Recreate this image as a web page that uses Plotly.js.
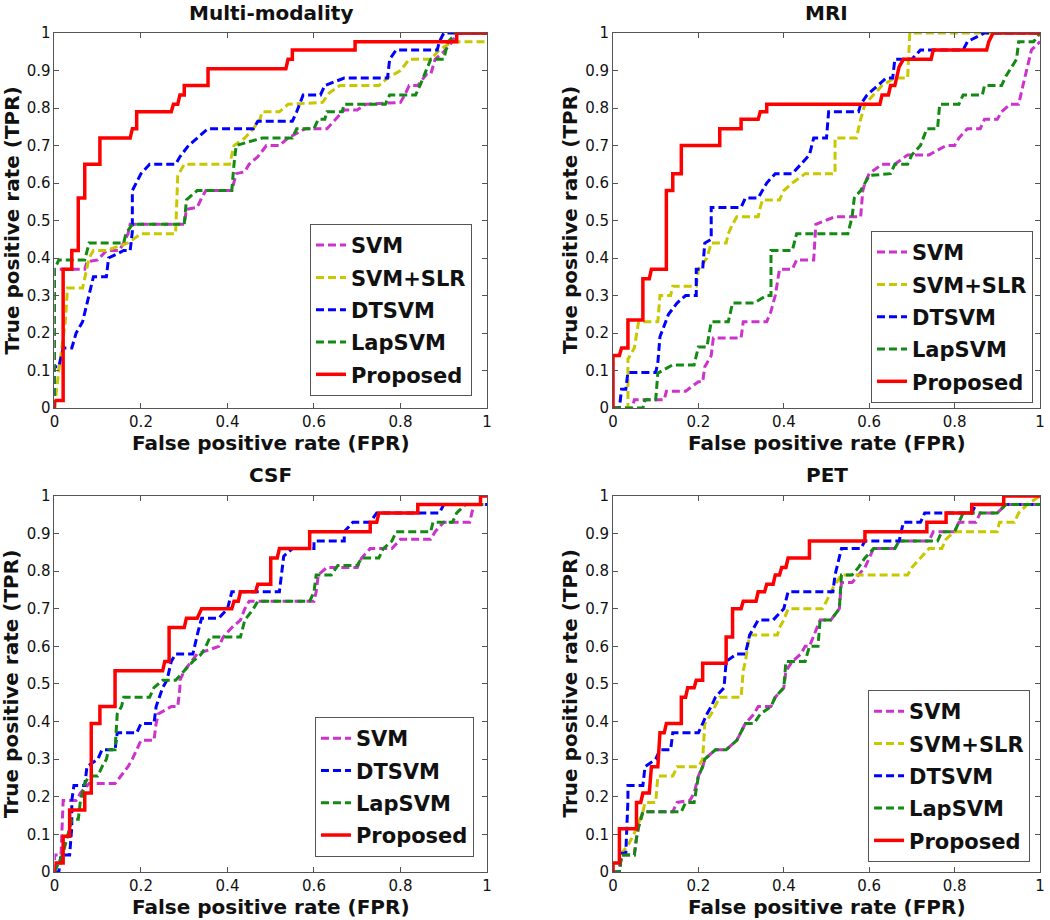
<!DOCTYPE html>
<html lang="en">
<head>
<meta charset="UTF-8">
<title>ROC curves</title>
<script src="https://cdn.plot.ly/plotly-3.0.1.min.js"></script>
<style>
    body { margin: 0; background: white; }
    #chart { width: 1050px; height: 920px; }
</style>
</head>
<body>
<div id="chart"></div>
<script>
    // ROC points [FPR, TPR]

    // Multi-modality
    const mmSVM = [[0,0],[0,0.37],[0.07,0.37],[0.075,0.39],[0.1,0.395],[0.12,0.42],[0.15,0.42],[0.16,0.44],[0.17,0.465],[0.175,0.49],[0.3,0.49],[0.305,0.53],[0.33,0.535],[0.34,0.56],[0.35,0.58],[0.41,0.58],[0.42,0.625],[0.44,0.63],[0.45,0.65],[0.47,0.67],[0.49,0.7],[0.52,0.7],[0.54,0.72],[0.58,0.745],[0.63,0.745],[0.65,0.77],[0.67,0.795],[0.7,0.795],[0.72,0.81],[0.8,0.815],[0.81,0.835],[0.82,0.86],[0.84,0.86],[0.86,0.89],[0.87,0.89],[0.88,0.93],[0.9,0.95],[0.92,0.977],[0.93,1],[1,1]];
    const mmSLR = [[0,0],[0.01,0.1],[0.025,0.23],[0.03,0.32],[0.065,0.32],[0.075,0.37],[0.08,0.4],[0.09,0.42],[0.12,0.42],[0.17,0.44],[0.2,0.465],[0.28,0.465],[0.285,0.62],[0.3,0.65],[0.405,0.65],[0.415,0.7],[0.44,0.72],[0.46,0.745],[0.475,0.77],[0.48,0.79],[0.52,0.79],[0.54,0.81],[0.62,0.815],[0.635,0.84],[0.66,0.86],[0.75,0.86],[0.77,0.88],[0.8,0.9],[0.82,0.93],[0.87,0.93],[0.89,0.955],[0.92,0.977],[1,0.977]];
    const mmDTSVM = [[0,0],[0,0.11],[0.01,0.11],[0.02,0.16],[0.04,0.16],[0.05,0.2],[0.065,0.23],[0.075,0.28],[0.09,0.35],[0.12,0.35],[0.125,0.4],[0.16,0.42],[0.175,0.42],[0.18,0.47],[0.18,0.58],[0.2,0.625],[0.22,0.65],[0.28,0.65],[0.29,0.67],[0.31,0.7],[0.33,0.72],[0.355,0.745],[0.46,0.745],[0.47,0.765],[0.55,0.765],[0.56,0.79],[0.575,0.835],[0.615,0.835],[0.625,0.86],[0.67,0.88],[0.77,0.88],[0.775,0.93],[0.79,0.955],[0.885,0.955],[0.89,0.977],[0.9,1],[1,1]];
    const mmLap = [[0,0],[0,0.37],[0.01,0.395],[0.07,0.395],[0.08,0.44],[0.16,0.44],[0.165,0.465],[0.18,0.49],[0.3,0.49],[0.305,0.555],[0.33,0.58],[0.41,0.58],[0.415,0.65],[0.42,0.7],[0.48,0.72],[0.55,0.72],[0.56,0.745],[0.6,0.745],[0.61,0.77],[0.625,0.77],[0.63,0.79],[0.665,0.79],[0.67,0.81],[0.765,0.81],[0.775,0.835],[0.835,0.835],[0.845,0.86],[0.855,0.89],[0.87,0.93],[0.9,0.93],[0.91,0.977],[0.93,1],[1,1]];
    const mmProposed = [[0,0],[0,0.02],[0.02,0.02],[0.02,0.37],[0.04,0.37],[0.04,0.42],[0.055,0.42],[0.055,0.56],[0.07,0.56],[0.07,0.65],[0.105,0.65],[0.105,0.72],[0.175,0.72],[0.18,0.745],[0.19,0.745],[0.19,0.79],[0.27,0.79],[0.275,0.81],[0.285,0.81],[0.29,0.835],[0.3,0.835],[0.3,0.86],[0.355,0.86],[0.355,0.905],[0.535,0.905],[0.54,0.93],[0.55,0.93],[0.55,0.955],[0.695,0.955],[0.695,0.977],[0.93,0.977],[0.93,1],[1,1]];

    // MRI
    const mriSVM = [[0,0],[0.045,0],[0.05,0.022],[0.12,0.022],[0.125,0.045],[0.17,0.045],[0.2,0.07],[0.21,0.07],[0.215,0.11],[0.23,0.14],[0.235,0.187],[0.3,0.187],[0.305,0.23],[0.36,0.23],[0.37,0.258],[0.38,0.3],[0.39,0.37],[0.42,0.37],[0.43,0.395],[0.47,0.395],[0.475,0.49],[0.52,0.51],[0.58,0.51],[0.585,0.58],[0.59,0.6],[0.6,0.625],[0.63,0.65],[0.66,0.65],[0.69,0.675],[0.74,0.675],[0.78,0.7],[0.8,0.7],[0.81,0.72],[0.83,0.745],[0.86,0.745],[0.87,0.77],[0.9,0.77],[0.91,0.79],[0.93,0.81],[0.95,0.81],[0.96,0.86],[0.97,0.91],[0.98,0.955],[1,0.977]];
    const mriSLR = [[0,0],[0.035,0],[0.035,0.13],[0.05,0.16],[0.06,0.23],[0.105,0.23],[0.11,0.3],[0.135,0.3],[0.14,0.325],[0.195,0.325],[0.2,0.37],[0.22,0.4],[0.23,0.44],[0.265,0.44],[0.27,0.465],[0.28,0.49],[0.29,0.51],[0.34,0.51],[0.345,0.535],[0.35,0.555],[0.39,0.555],[0.4,0.58],[0.42,0.6],[0.45,0.625],[0.52,0.625],[0.52,0.72],[0.57,0.72],[0.575,0.745],[0.58,0.77],[0.59,0.81],[0.61,0.835],[0.63,0.86],[0.66,0.88],[0.69,0.88],[0.695,1],[1,1]];
    const mriDTSVM = [[0,0],[0.015,0],[0.02,0.05],[0.03,0.05],[0.035,0.095],[0.1,0.095],[0.105,0.12],[0.11,0.19],[0.13,0.25],[0.15,0.28],[0.17,0.3],[0.195,0.3],[0.195,0.37],[0.21,0.37],[0.215,0.44],[0.23,0.45],[0.23,0.535],[0.3,0.535],[0.31,0.56],[0.34,0.56],[0.35,0.58],[0.36,0.6],[0.38,0.625],[0.42,0.625],[0.44,0.65],[0.46,0.675],[0.47,0.72],[0.5,0.72],[0.505,0.79],[0.575,0.79],[0.58,0.81],[0.595,0.835],[0.62,0.86],[0.64,0.88],[0.655,0.88],[0.66,0.93],[0.7,0.93],[0.72,0.955],[0.82,0.955],[0.83,0.977],[0.87,1],[1,1]];
    const mriLap = [[0,0],[0.07,0],[0.075,0.022],[0.1,0.022],[0.105,0.093],[0.14,0.115],[0.19,0.115],[0.2,0.163],[0.22,0.163],[0.23,0.23],[0.27,0.23],[0.28,0.28],[0.33,0.28],[0.36,0.3],[0.37,0.3],[0.37,0.42],[0.42,0.42],[0.43,0.465],[0.55,0.465],[0.56,0.51],[0.565,0.56],[0.58,0.58],[0.6,0.62],[0.65,0.625],[0.66,0.65],[0.69,0.65],[0.7,0.675],[0.72,0.7],[0.735,0.745],[0.76,0.745],[0.765,0.81],[0.81,0.81],[0.82,0.835],[0.865,0.835],[0.87,0.86],[0.91,0.86],[0.92,0.885],[0.935,0.91],[0.945,0.93],[0.95,0.977],[0.985,0.977],[1,1]];
    const mriProposed = [[0,0],[0,0.14],[0.015,0.14],[0.02,0.16],[0.035,0.16],[0.035,0.235],[0.07,0.235],[0.07,0.345],[0.085,0.345],[0.09,0.37],[0.125,0.37],[0.125,0.58],[0.14,0.58],[0.14,0.625],[0.16,0.625],[0.16,0.7],[0.25,0.7],[0.25,0.745],[0.3,0.745],[0.3,0.77],[0.34,0.77],[0.345,0.79],[0.36,0.79],[0.36,0.81],[0.625,0.81],[0.63,0.835],[0.645,0.835],[0.65,0.86],[0.66,0.86],[0.665,0.885],[0.67,0.91],[0.68,0.93],[0.745,0.93],[0.75,0.955],[0.875,0.955],[0.88,0.977],[0.89,1],[1,1]];

    // CSF
    const csfSVM = [[0,0],[0,0.045],[0.015,0.045],[0.02,0.19],[0.05,0.19],[0.06,0.21],[0.08,0.235],[0.14,0.235],[0.15,0.25],[0.17,0.28],[0.18,0.3],[0.19,0.325],[0.2,0.35],[0.23,0.35],[0.235,0.395],[0.24,0.42],[0.27,0.44],[0.285,0.44],[0.29,0.49],[0.29,0.51],[0.3,0.535],[0.33,0.58],[0.38,0.6],[0.39,0.625],[0.41,0.65],[0.43,0.67],[0.44,0.7],[0.45,0.72],[0.6,0.72],[0.605,0.745],[0.61,0.79],[0.63,0.81],[0.7,0.81],[0.71,0.835],[0.73,0.86],[0.78,0.86],[0.8,0.885],[0.87,0.885],[0.88,0.905],[0.9,0.93],[0.96,0.93],[0.965,0.955],[0.97,0.977],[1,0.977]];
    const csfDTSVM = [[0,0],[0.01,0],[0.015,0.045],[0.035,0.045],[0.04,0.12],[0.04,0.19],[0.045,0.23],[0.07,0.23],[0.075,0.28],[0.1,0.3],[0.11,0.325],[0.14,0.325],[0.145,0.37],[0.19,0.37],[0.2,0.395],[0.23,0.395],[0.235,0.44],[0.25,0.49],[0.26,0.51],[0.27,0.56],[0.28,0.58],[0.32,0.58],[0.33,0.63],[0.34,0.675],[0.38,0.675],[0.4,0.7],[0.41,0.745],[0.52,0.745],[0.53,0.84],[0.55,0.86],[0.6,0.86],[0.6,0.88],[0.67,0.88],[0.67,0.905],[0.69,0.93],[0.73,0.93],[0.745,0.955],[0.89,0.955],[0.9,0.977],[1,0.977]];
    const csfLap = [[0,0],[0.02,0.05],[0.04,0.14],[0.055,0.14],[0.06,0.19],[0.065,0.21],[0.07,0.235],[0.08,0.255],[0.1,0.255],[0.11,0.28],[0.12,0.3],[0.125,0.325],[0.14,0.325],[0.145,0.42],[0.155,0.44],[0.16,0.465],[0.22,0.465],[0.23,0.49],[0.25,0.51],[0.28,0.51],[0.3,0.535],[0.32,0.56],[0.34,0.58],[0.35,0.6],[0.36,0.625],[0.43,0.625],[0.44,0.67],[0.46,0.7],[0.47,0.72],[0.59,0.72],[0.6,0.745],[0.605,0.79],[0.64,0.79],[0.655,0.815],[0.7,0.815],[0.71,0.835],[0.75,0.835],[0.76,0.86],[0.78,0.88],[0.79,0.905],[0.87,0.905],[0.875,0.93],[0.92,0.93],[0.93,0.955],[0.95,0.977],[1,0.977]];
    const csfProposed = [[0,0],[0,0.024],[0.02,0.024],[0.02,0.095],[0.035,0.095],[0.035,0.165],[0.07,0.165],[0.07,0.21],[0.085,0.21],[0.085,0.395],[0.105,0.395],[0.105,0.44],[0.14,0.44],[0.14,0.535],[0.25,0.535],[0.255,0.56],[0.265,0.56],[0.265,0.65],[0.3,0.65],[0.305,0.675],[0.33,0.675],[0.34,0.7],[0.41,0.7],[0.415,0.72],[0.425,0.72],[0.43,0.745],[0.465,0.745],[0.47,0.765],[0.5,0.765],[0.5,0.835],[0.515,0.835],[0.52,0.86],[0.59,0.86],[0.59,0.905],[0.73,0.905],[0.73,0.93],[0.745,0.93],[0.75,0.955],[0.84,0.955],[0.84,0.977],[0.985,0.977],[0.985,1],[1,1]];

    // PET
    const petSVM = [[0,0],[0.015,0],[0.02,0.045],[0.05,0.045],[0.055,0.09],[0.06,0.12],[0.07,0.16],[0.14,0.16],[0.15,0.185],[0.18,0.19],[0.19,0.21],[0.2,0.255],[0.21,0.28],[0.215,0.3],[0.24,0.325],[0.265,0.325],[0.29,0.35],[0.31,0.395],[0.33,0.42],[0.34,0.44],[0.37,0.44],[0.38,0.465],[0.4,0.49],[0.405,0.535],[0.42,0.56],[0.44,0.58],[0.45,0.6],[0.46,0.6],[0.485,0.67],[0.51,0.67],[0.53,0.7],[0.535,0.77],[0.56,0.77],[0.575,0.79],[0.59,0.81],[0.6,0.835],[0.61,0.86],[0.66,0.86],[0.67,0.88],[0.74,0.88],[0.75,0.905],[0.8,0.905],[0.81,0.93],[0.85,0.93],[0.86,0.955],[0.9,0.955],[0.92,0.977],[1,0.977]];
    const petSLR = [[0,0],[0.015,0],[0.02,0.05],[0.035,0.07],[0.055,0.115],[0.07,0.16],[0.075,0.185],[0.1,0.185],[0.105,0.255],[0.14,0.255],[0.15,0.28],[0.2,0.28],[0.21,0.3],[0.215,0.395],[0.23,0.42],[0.25,0.465],[0.3,0.465],[0.305,0.535],[0.31,0.56],[0.32,0.63],[0.385,0.63],[0.39,0.65],[0.4,0.67],[0.41,0.7],[0.49,0.7],[0.5,0.72],[0.51,0.745],[0.52,0.765],[0.535,0.79],[0.69,0.79],[0.7,0.81],[0.72,0.835],[0.74,0.86],[0.77,0.86],[0.78,0.885],[0.8,0.905],[0.9,0.905],[0.905,0.93],[0.94,0.93],[0.95,0.955],[0.97,0.977],[1,1]];
    const petDTSVM = [[0,0],[0.015,0],[0.02,0.05],[0.03,0.05],[0.035,0.19],[0.035,0.23],[0.07,0.23],[0.075,0.28],[0.1,0.3],[0.11,0.325],[0.135,0.325],[0.14,0.37],[0.2,0.37],[0.21,0.395],[0.22,0.42],[0.23,0.44],[0.24,0.465],[0.26,0.49],[0.265,0.56],[0.29,0.58],[0.31,0.58],[0.32,0.63],[0.34,0.67],[0.375,0.67],[0.4,0.7],[0.41,0.745],[0.515,0.745],[0.52,0.79],[0.535,0.86],[0.58,0.86],[0.59,0.88],[0.67,0.88],[0.68,0.93],[0.72,0.93],[0.73,0.955],[0.84,0.955],[0.85,0.977],[1,0.977]];
    const petLap = [[0,0],[0.015,0],[0.02,0.045],[0.05,0.045],[0.055,0.09],[0.06,0.12],[0.07,0.16],[0.16,0.16],[0.17,0.185],[0.19,0.185],[0.2,0.255],[0.21,0.28],[0.215,0.3],[0.24,0.325],[0.265,0.325],[0.29,0.35],[0.31,0.395],[0.33,0.395],[0.345,0.42],[0.37,0.44],[0.38,0.465],[0.4,0.49],[0.405,0.56],[0.45,0.56],[0.46,0.6],[0.48,0.6],[0.485,0.67],[0.51,0.67],[0.53,0.7],[0.535,0.79],[0.56,0.79],[0.575,0.81],[0.59,0.835],[0.61,0.86],[0.66,0.86],[0.67,0.88],[0.76,0.88],[0.77,0.905],[0.8,0.905],[0.81,0.93],[0.82,0.955],[0.9,0.955],[0.92,0.977],[1,0.977]];
    const petProposed = [[0,0],[0,0.024],[0.015,0.024],[0.015,0.115],[0.055,0.115],[0.055,0.185],[0.065,0.185],[0.07,0.21],[0.085,0.21],[0.09,0.28],[0.105,0.28],[0.11,0.37],[0.12,0.37],[0.125,0.395],[0.16,0.395],[0.16,0.465],[0.17,0.465],[0.175,0.49],[0.19,0.49],[0.195,0.51],[0.21,0.51],[0.21,0.555],[0.265,0.555],[0.265,0.625],[0.28,0.625],[0.28,0.7],[0.3,0.7],[0.305,0.72],[0.335,0.72],[0.34,0.745],[0.355,0.745],[0.36,0.765],[0.375,0.765],[0.38,0.79],[0.39,0.79],[0.395,0.81],[0.405,0.81],[0.41,0.835],[0.46,0.835],[0.46,0.88],[0.59,0.88],[0.59,0.905],[0.735,0.905],[0.735,0.93],[0.78,0.93],[0.78,0.955],[0.84,0.955],[0.84,0.977],[0.915,0.977],[0.915,1],[1,1]];

    const xTicks = [0, 0.2, 0.4, 0.6, 0.8, 1];
    const xTickLabels = ['0', '0.2', '0.4', '0.6', '0.8', '1'];
    const yTicks = [0, 0.1, 0.2, 0.3, 0.4, 0.5, 0.6, 0.7, 0.8, 0.9, 1];
    const yTickLabels = ['0', '0.1', '0.2', '0.3', '0.4', '0.5', '0.6', '0.7', '0.8', '0.9', '1'];

    const panels = [
        { title: 'Multi-modality', curves: [['SVM', mmSVM], ['SVM+SLR', mmSLR], ['DTSVM', mmDTSVM], ['LapSVM', mmLap], ['Proposed', mmProposed]] },
        { title: 'MRI', curves: [['SVM', mriSVM], ['SVM+SLR', mriSLR], ['DTSVM', mriDTSVM], ['LapSVM', mriLap], ['Proposed', mriProposed]] },
        { title: 'CSF', curves: [['SVM', csfSVM], ['DTSVM', csfDTSVM], ['LapSVM', csfLap], ['Proposed', csfProposed]] },
        { title: 'PET', curves: [['SVM', petSVM], ['SVM+SLR', petSLR], ['DTSVM', petDTSVM], ['LapSVM', petLap], ['Proposed', petProposed]] }
    ];

    // line look per method
    const styles = {
        'SVM': { color: '#cc33cc', width: 3, dash: '8px,4px' },
        'SVM+SLR': { color: '#c8c800', width: 3, dash: '8px,4px' },
        'DTSVM': { color: '#0000ff', width: 3, dash: '8px,4px' },
        'LapSVM': { color: '#138a13', width: 3, dash: '8px,4px' },
        'Proposed': { color: '#ff0000', width: 3.5, dash: 'solid' }
    };

    // panel geometry in paper coords
    const xDomains = [[0.0519, 0.4638], [0.5838, 0.9905], [0.0519, 0.4638], [0.5838, 0.9905]];
    const yDomains = [[0.5565, 0.9641], [0.5565, 0.9641], [0.0522, 0.4609], [0.0522, 0.4609]];
    const legendPos = [[0.4495, 0.5696], [0.9838, 0.5620], [0.4514, 0.0685], [0.9810, 0.0630]];

    const font = 'DejaVu Sans, Arial, sans-serif';
    const traces = [];
    const layout = {
        width: 1050,
        height: 920,
        margin: { l: 0, r: 0, t: 0, b: 0 },
        paper_bgcolor: 'white',
        plot_bgcolor: 'white',
        annotations: []
    };

    panels.forEach((p, i) => {
        const n = i === 0 ? '' : String(i + 1);
        const legendName = 'legend' + n;

        p.curves.forEach(([name, pts]) => {
            const s = styles[name];
            traces.push({
                x: pts.map(d => d[0]),
                y: pts.map(d => d[1]),
                type: 'scatter',
                mode: 'lines',
                name: name,
                xaxis: 'x' + n,
                yaxis: 'y' + n,
                legend: legendName,
                legendgroup: name + n,
                line: { color: s.color, width: s.width, dash: s.dash }
            });
        });

        const axisBase = {
            range: [0, 1],
            showline: true,
            linecolor: '#555',
            linewidth: 1,
            mirror: 'ticks',
            ticks: 'inside',
            ticklen: 5,
            tickcolor: '#555',
            showgrid: false,
            zeroline: false,
            tickfont: { family: font, size: 15, color: '#111' }
        };
        layout['xaxis' + n] = Object.assign({}, axisBase, {
            domain: xDomains[i], anchor: 'y' + n,
            tickvals: xTicks, ticktext: xTickLabels
        });
        layout['yaxis' + n] = Object.assign({}, axisBase, {
            domain: yDomains[i], anchor: 'x' + n,
            tickvals: yTicks, ticktext: yTickLabels
        });

        layout[legendName] = {
            x: legendPos[i][0], y: legendPos[i][1],
            xanchor: 'right', yanchor: 'bottom',
            bgcolor: 'white', bordercolor: '#555', borderwidth: 1,
            tracegroupgap: 2,
            font: { family: font, size: 21, color: '#111', weight: 'bold' }
        };

        const xc = (xDomains[i][0] + xDomains[i][1]) / 2;
        const yc = (yDomains[i][0] + yDomains[i][1]) / 2;
        const titleFont = { family: font, size: 20, color: '#111', weight: 'bold' };

        layout.annotations.push({
            text: p.title, xref: 'paper', yref: 'paper',
            x: xc, y: yDomains[i][1] + 0.0223, xanchor: 'center', yanchor: 'middle',
            showarrow: false, font: titleFont
        });
        layout.annotations.push({
            text: 'False positive rate (FPR)', xref: 'paper', yref: 'paper',
            x: xc, y: yDomains[i][0] - 0.038, xanchor: 'center', yanchor: 'middle',
            showarrow: false, font: titleFont
        });
        layout.annotations.push({
            text: 'True positive rate (TPR)', xref: 'paper', yref: 'paper',
            x: xDomains[i][0] - 0.0414, y: yc, xanchor: 'center', yanchor: 'middle',
            textangle: -90, showarrow: false, font: titleFont
        });
    });

    Plotly.newPlot('chart', traces, layout, { displayModeBar: false, staticPlot: true });
</script>
</body>
</html>
